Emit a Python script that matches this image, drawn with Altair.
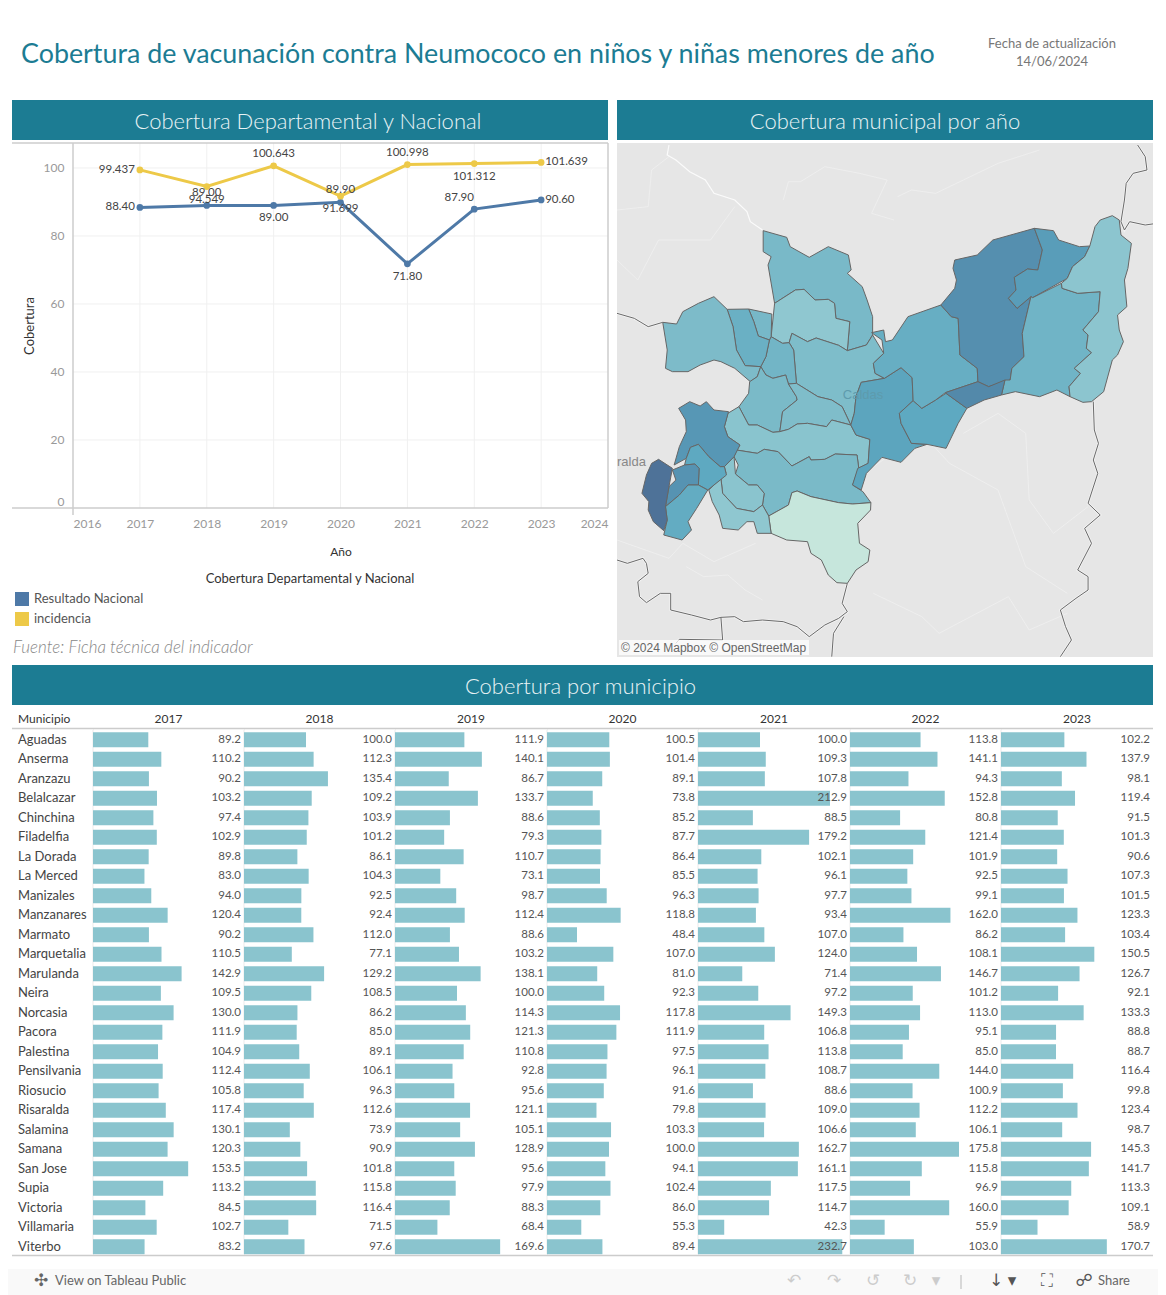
import altair as alt
import pandas as pd

FONT = "Lato"
TEAL = "#1C7C93"
BAR = "#8AC4CE"

# ---------- line chart data ----------
years = [2017, 2018, 2019, 2020, 2021, 2022, 2023]
nacional = [88.40, 89.00, 89.00, 89.90, 71.80, 87.90, 90.60]
nacional_lbl = ["88.40", "89.00", "89.00", "89.90", "71.80", "87.90", "90.60"]
nacional_pos = ["left", "above", "below", "above", "below", "aboveleft", "right"]
incidencia = [99.437, 94.549, 100.643, 91.699, 100.998, 101.312, 101.639]
incidencia_lbl = ["99.437", "94.549", "100.643", "91.699", "100.998", "101.312", "101.639"]
incidencia_pos = ["left", "below", "above", "below", "above", "below", "right"]

# ---------- table data ----------
municipios = ["Aguadas", "Anserma", "Aranzazu", "Belalcazar", "Chinchina", "Filadelfia", "La Dorada",
              "La Merced", "Manizales", "Manzanares", "Marmato", "Marquetalia", "Marulanda", "Neira",
              "Norcasia", "Pacora", "Palestina", "Pensilvania", "Riosucio", "Risaralda", "Salamina",
              "Samana", "San Jose", "Supia", "Victoria", "Villamaria", "Viterbo"]
v2017 = [89.2, 110.2, 90.2, 103.2, 97.4, 102.9, 89.8, 83.0, 94.0, 120.4, 90.2, 110.5, 142.9, 109.5, 130.0,
         111.9, 104.9, 112.4, 105.8, 117.4, 130.1, 120.3, 153.5, 113.2, 84.5, 102.7, 83.2]
v2018 = [100.0, 112.3, 135.4, 109.2, 103.9, 101.2, 86.1, 104.3, 92.5, 92.4, 112.0, 77.1, 129.2, 108.5, 86.2,
         85.0, 89.1, 106.1, 96.3, 112.6, 73.9, 90.9, 101.8, 115.8, 116.4, 71.5, 97.6]
v2019 = [111.9, 140.1, 86.7, 133.7, 88.6, 79.3, 110.7, 73.1, 98.7, 112.4, 88.6, 103.2, 138.1, 100.0, 114.3,
         121.3, 110.8, 92.8, 95.6, 121.1, 105.1, 128.9, 95.6, 97.9, 88.3, 68.4, 169.6]
v2020 = [100.5, 101.4, 89.1, 73.8, 85.2, 87.7, 86.4, 85.5, 96.3, 118.8, 48.4, 107.0, 81.0, 92.3, 117.8,
         111.9, 97.5, 96.1, 91.6, 79.8, 103.3, 100.0, 94.1, 102.4, 86.0, 55.3, 89.4]
v2021 = [100.0, 109.3, 107.8, 212.9, 88.5, 179.2, 102.1, 96.1, 97.7, 93.4, 107.0, 124.0, 71.4, 97.2, 149.3,
         106.8, 113.8, 108.7, 88.6, 109.0, 106.6, 162.7, 161.1, 117.5, 114.7, 42.3, 232.7]
v2022 = [113.8, 141.1, 94.3, 152.8, 80.8, 121.4, 101.9, 92.5, 99.1, 162.0, 86.2, 108.1, 146.7, 101.2, 113.0,
         95.1, 85.0, 144.0, 100.9, 112.2, 106.1, 175.8, 115.8, 96.9, 160.0, 55.9, 103.0]
v2023 = [102.2, 137.9, 98.1, 119.4, 91.5, 101.3, 90.6, 107.3, 101.5, 123.3, 103.4, 150.5, 126.7, 92.1, 133.3,
         88.8, 88.7, 116.4, 99.8, 123.4, 98.7, 145.3, 141.7, 113.3, 109.1, 58.9, 170.7]
table_cols = [v2017, v2018, v2019, v2020, v2021, v2022, v2023]
panel_widths = [151, 151, 152, 151, 152, 151, 152]

# ---------- map outlines (in map units) ----------
shapes = {
 "Aguadas": [(422,92),(490,112),(500,140),(555,172),(610,140),(668,165),(676,210),(665,220),(708,260),(722,300),(738,350),(738,405),(720,435),(665,452),(672,365),(632,355),(628,310),(610,298),(572,300),(540,268),(515,270),(455,310),(436,195),(445,170),(422,155)],
 "Pacora": [(455,310),(515,270),(540,268),(572,300),(610,298),(628,310),(632,355),(672,365),(665,452),(640,436),(575,414),(550,425),(505,400),(497,428),(478,430),(445,410)],
 "Salamina": [(505,400),(550,425),(575,414),(640,436),(665,452),(720,435),(738,405),(770,460),(740,490),(745,520),(772,535),(705,547),(690,590),(685,640),(675,675),(650,620),(620,600),(580,590),(518,550),(510,450),(497,428)],
 "La Merced": [(445,410),(478,430),(497,428),(510,450),(518,550),(495,552),(487,525),(450,535),(430,525),(415,500),(430,470),(440,420)],
 "Marmato": [(380,327),(447,342),(445,410),(440,420),(408,408),(395,365)],
 "Supia": [(318,328),(380,327),(395,365),(408,408),(440,420),(430,470),(415,500),(370,497),(345,450),(335,380)],
 "Riosucio": [(132,367),(172,372),(190,335),(235,310),(280,290),(318,328),(335,380),(345,450),(370,497),(415,500),(405,530),(385,545),(340,505),(300,485),(280,480),(240,495),(205,515),(160,515),(140,505),(145,450)],
 "Filadelfia": [(415,500),(430,525),(450,535),(487,525),(495,552),(518,590),(520,600),(478,635),(470,695),(450,697),(405,675),(380,675),(352,620),(380,580),(383,545),(405,530)],
 "Aranzazu": [(495,552),(518,550),(580,590),(620,600),(650,620),(675,675),(620,660),(605,680),(550,670),(520,672),(495,688),(470,695),(478,635),(520,600),(518,590)],
 "Neira": [(352,620),(380,675),(405,675),(450,697),(470,695),(495,688),(520,672),(550,670),(605,680),(620,660),(675,675),(690,705),(730,718),(725,790),(698,805),(693,765),(630,762),(600,778),(560,780),(555,770),(505,798),(465,755),(425,748),(405,760),(345,750),(355,735),(320,710),(310,680),(320,640)],
 "Manizales": [(345,750),(405,760),(425,748),(465,755),(505,798),(555,770),(560,780),(600,778),(630,762),(693,765),(698,805),(680,855),(710,875),(733,908),(680,912),(640,908),(560,890),(520,873),(505,878),(495,915),(438,948),(420,915),(425,880),(405,855),(380,855),(342,822),(350,795),(338,770)],
 "Villamaria": [(438,948),(495,915),(505,878),(520,873),(560,890),(640,908),(680,912),(733,908),(732,930),(695,970),(700,1030),(730,1050),(725,1085),(690,1110),(665,1150),(635,1148),(610,1125),(590,1080),(560,1060),(550,1025),(490,1020),(445,1000)],
 "Chinchina": [(338,770),(342,822),(380,855),(405,855),(425,880),(420,915),(395,935),(345,925),(305,880),(300,835),(315,820),(310,800)],
 "Palestina": [(265,870),(300,835),(305,880),(345,925),(395,935),(420,915),(438,948),(445,1000),(405,1000),(395,965),(375,965),(350,990),(305,985),(295,945),(275,905)],
 "Anserma": [(178,625),(210,605),(240,618),(258,605),(280,630),(322,635),(310,680),(320,710),(355,735),(338,770),(310,800),(298,800),(265,770),(235,733),(212,742),(200,775),(165,795),(180,740),(200,695),(198,660)],
 "Risaralda": [(235,733),(265,770),(298,800),(310,800),(316,825),(262,870),(235,855),(237,805),(225,792),(195,795),(200,775),(212,742)],
 "San Jose": [(160,810),(195,795),(225,792),(237,805),(235,855),(205,855),(180,885),(140,920),(150,860),(170,840)],
 "Belalcazar": [(140,920),(180,885),(205,855),(235,855),(262,870),(230,925),(205,965),(215,990),(188,1020),(135,1005),(145,960)],
 "Viterbo": [(120,778),(160,805),(150,860),(140,920),(145,960),(135,992),(105,965),(90,930),(92,905),(72,880),(85,825),(100,790)],
 "Marulanda": [(705,547),(772,535),(820,503),(852,533),(855,602),(815,640),(820,670),(850,730),(895,733),(860,745),(820,787),(765,772),(720,820),(705,870),(680,855),(695,805),(725,790),(730,718),(690,705),(675,675),(685,640),(690,590)],
 "Manzanares": [(815,640),(855,602),(880,625),(920,600),(950,580),(1010,625),(985,670),(950,745),(895,733),(850,730),(820,670)],
 "Pensilvania": [(740,490),(770,460),(765,420),(735,398),(770,390),(775,425),(795,420),(840,350),(935,315),(965,350),(985,355),(990,465),(1040,505),(1042,545),(948,578),(920,600),(880,625),(855,602),(852,533),(820,503),(772,535),(745,520)],
 "Samana": [(975,180),(1040,165),(1085,120),(1205,85),(1228,150),(1215,210),(1185,207),(1147,232),(1152,270),(1130,295),(1155,325),(1195,290),(1170,400),(1175,470),(1140,505),(1135,540),(1073,560),(1042,545),(1040,505),(990,465),(985,355),(965,350),(935,315),(975,265),(980,240),(970,205)],
 "Norcasia": [(1205,85),(1260,92),(1275,120),(1335,140),(1365,138),(1350,170),(1315,200),(1300,235),(1200,293),(1195,290),(1155,325),(1130,295),(1152,270),(1147,232),(1185,207),(1215,210),(1228,150)],
 "Victoria": [(1200,293),(1283,250),(1285,265),(1330,280),(1395,275),(1390,335),(1345,390),(1360,405),(1355,445),(1370,458),(1320,505),(1338,520),(1305,560),(1308,590),(1270,570),(1220,590),(1150,575),(1110,585),(1120,540),(1135,540),(1140,505),(1175,470),(1170,400),(1195,290)],
 "La Dorada": [(1430,47),(1450,60),(1455,105),(1485,130),(1475,205),(1465,240),(1472,320),(1445,345),(1450,390),(1462,425),(1445,465),(1430,480),(1405,575),(1370,605),(1345,607),(1308,590),(1305,560),(1338,520),(1320,505),(1370,458),(1355,445),(1360,405),(1345,390),(1390,335),(1395,275),(1330,280),(1285,265),(1283,250),(1300,235),(1315,200),(1350,170),(1365,138),(1380,80),(1395,60)],
 "Marquetalia": [(948,578),(1042,545),(1073,560),(1120,540),(1110,585),(1060,600),(1010,625),(950,580)],
}
borders = [
 [(0,340),(50,355),(90,380),(132,367)],
 [(1503,-165),(1525,-130),(1530,-90),(1490,-80),(1470,-50),(1465,0),(1455,65)],
 [(1455,65),(1465,90),(1480,65),(1525,75),(1559,70)],
 [(1375,605),(1378,690),(1390,730),(1375,780),(1388,820),(1360,910),(1395,945),(1350,985),(1370,1030),(1330,1110),(1360,1130),(1360,1170),(1325,1195),(1280,1230),(1295,1280),(1312,1320),(1280,1370)],
 [(665,1150),(650,1210),(665,1235),(640,1255),(600,1275),(555,1310),(520,1280),(480,1265),(420,1260),(365,1265),(340,1250),(300,1252),(270,1260),(215,1245),(155,1230),(155,1180),(125,1180),(85,1208),(65,1190),(60,1145),(90,1120),(85,1090),(75,1075),(30,1090),(0,1080)],
 [(300,1252),(305,1320),(180,1318),(170,1330)],
 [(655,1250),(625,1300),(620,1370)],
]
rivers = [
 [(150,-165),(145,-135),(170,-120),(210,-85),(255,-60),(280,-20),(340,0),(375,35),(385,65),(420,90)],
]
faint_rivers = [
 [(480,0),(495,-55),(530,-55),(600,-100),(700,-80),(780,-60),(735,40),(800,60)],
 [(810,-10),(850,-30),(920,-20),(1000,-60),(1100,-110),(1220,-150)],
 [(0,30),(90,20),(100,-90),(150,-130)],
 [(0,180),(60,240),(120,120),(270,120),(340,20)],
 [(1000,700),(1100,640),(1180,700),(1190,900),(1260,1000),(1360,920)],
 [(740,800),(880,700),(960,790),(1100,870),(1180,1100),(1300,1180)],
 [(740,1180),(880,1250),(930,1300),(1130,1190),(1190,1290),(1300,1240)],
 [(200,1100),(250,1130),(320,1125),(370,1170),(420,1200)],
 [(0,1020),(150,1075),(190,1030),(280,1085),(400,1030)],
]

# ---------- footer ----------
foot_text = ["View on Tableau Public", "Share"]
foot_text_x = [43, 1086]
foot_icons = ["\u2723", "\u21b6", "\u21b7", "\u21ba", "\u21bb", "\u25be", "\u2193", "\u25be", "\u26f6", "\u260d"]
foot_icons_x = [29, 782, 822, 861, 898, 924, 984, 1000, 1035, 1072]
foot_icons_c = ["#666", "#ccc", "#ccc", "#ccc", "#ccc", "#ccc", "#555", "#555", "#555", "#555"]


def tdf(*t):
    return pd.DataFrame({"t": list(t)})


def banner(label, w, cx=None, top=0):
    h = 40 + top
    rect = alt.Chart(tdf("")).mark_rect(color=TEAL).encode(
        x=alt.value(0), x2=alt.value(w), y=alt.value(top), y2=alt.value(h))
    text = (alt.Chart(tdf(label))
            .mark_text(font=FONT, fontWeight=300, fontSize=22, color="#E9F3F5", align="center", baseline="middle")
            .encode(text="t:N", x=alt.value(w / 2 if cx is None else cx), y=alt.value(top + 21.5)))
    return alt.layer(rect, text).properties(width=w, height=h)


# ---------- header ----------
title_l = alt.Chart(tdf("Cobertura de vacunación contra Neumococo en niños y niñas menores de año")).mark_text(
    font=FONT, fontSize=26.85, color="#1C7C93", align="left", baseline="middle"
).encode(text="t:N", x=alt.value(9), y=alt.value(47))
date1 = alt.Chart(tdf("Fecha de actualización")).mark_text(
    font=FONT, fontSize=13, color="#777777", align="center", baseline="middle"
).encode(text="t:N", x=alt.value(1040), y=alt.value(36))
date2 = alt.Chart(tdf("14/06/2024")).mark_text(
    font=FONT, fontSize=13, color="#777777", align="center", baseline="middle"
).encode(text="t:N", x=alt.value(1040), y=alt.value(53.5))
header = alt.layer(title_l, date1, date2).properties(width=1141, height=92)

# ---------- line chart ----------
LW, LH = 596, 514
rows = []
for s, vals, lbls, poss in [("Resultado Nacional", nacional, nacional_lbl, nacional_pos),
                            ("incidencia", incidencia, incidencia_lbl, incidencia_pos)]:
    for y, v, l, p in zip(years, vals, lbls, poss):
        rows.append({"year": y, "value": v, "serie": s, "label": l, "pos": p})
line_df = pd.DataFrame(rows)

xs = alt.Scale(domain=[2016, 2024], range=[61, 596], nice=False, zero=False)
ys = alt.Scale(domain=[0, 107.35], range=[365, 0], nice=False)
cs = alt.Scale(domain=["Resultado Nacional", "incidencia"], range=["#4E79A7", "#EDC948"])

x_axis = alt.Axis(values=[2016, 2017, 2018, 2019, 2020, 2021, 2022, 2023, 2024], format="d", grid=False, ticks=False,
                  domain=False, offset=-149, labelFlush=True, labelFont=FONT, labelFontSize=12,
                  labelColor="#999999", labelPadding=10, title="Año", titleFont=FONT, titleFontSize=12,
                  titleColor="#333333", titleFontWeight="normal", titlePadding=17)
y_axis = alt.Axis(values=[0, 20, 40, 60, 80, 100], grid=False, ticks=False, domain=False, offset=-61,
                  labelFlush=True, labelFont=FONT, labelFontSize=12, labelColor="#999999", labelPadding=9,
                  title="Cobertura", titleFont=FONT, titleFontSize=13, titleColor="#333333",
                  titleFontWeight="normal", titlePadding=7)

grid_v = alt.Chart(pd.DataFrame({"year": years, "a": [0] * 7, "b": [107.35] * 7})).mark_rule(
    color="#F0F0F0", strokeWidth=1
).encode(x=alt.X("year:Q", scale=xs, axis=x_axis), y=alt.Y("a:Q", scale=ys, axis=y_axis), y2="b:Q")
grid_h = alt.Chart(pd.DataFrame({"v": [20, 40, 60, 80, 100], "a": [2016] * 5, "b": [2024] * 5})).mark_rule(
    color="#F0F0F0", strokeWidth=1
).encode(y=alt.Y("v:Q", scale=ys), x=alt.X("a:Q", scale=xs), x2="b:Q")


def hline(w, y, x0=0, color="#CCCCCC"):
    return alt.Chart(tdf("")).mark_rule(color=color, strokeWidth=1.5).encode(
        x=alt.value(x0), x2=alt.value(w), y=alt.value(y))


def vline(x, y0, y1, color="#CCCCCC"):
    return alt.Chart(tdf("")).mark_rule(color=color, strokeWidth=1.5).encode(
        x=alt.value(x), y=alt.value(y0), y2=alt.value(y1))


legend = alt.Legend(title=None, orient="none", legendX=3, legendY=492, symbolType="square", symbolSize=196,
                    symbolStrokeWidth=0, rowPadding=6, labelFont=FONT, labelFontSize=13, labelColor="#555555",
                    labelOffset=5)
line_layer = alt.Chart(line_df).mark_line(strokeWidth=3).encode(
    x=alt.X("year:Q", scale=xs), y=alt.Y("value:Q", scale=ys),
    color=alt.Color("serie:N", scale=cs, legend=legend))
pt_layer = alt.Chart(line_df).mark_point(filled=True, size=45, opacity=1).encode(
    x=alt.X("year:Q", scale=xs), y=alt.Y("value:Q", scale=ys),
    color=alt.Color("serie:N", scale=cs, legend=legend))

label_layers = []
for pos, kw in {"left": dict(align="right", dx=-5, dy=0), "right": dict(align="left", dx=4, dy=0),
                "above": dict(align="center", dx=0, dy=-12), "below": dict(align="center", dx=0, dy=13),
                "aboveleft": dict(align="center", dx=-15, dy=-11)}.items():
    label_layers.append(
        alt.Chart(line_df[line_df["pos"] == pos]).mark_text(
            font=FONT, fontSize=11.5, color="#444444", baseline="middle", **kw
        ).encode(x=alt.X("year:Q", scale=xs), y=alt.Y("value:Q", scale=ys), text="label:N"))

leg_title = alt.Chart(tdf("Cobertura Departamental y Nacional")).mark_text(
    font=FONT, fontSize=13, color="#333333", align="center", baseline="middle"
).encode(text="t:N", x=alt.value(298), y=alt.value(436))
fuente = alt.Chart(tdf("Fuente: Ficha técnica del indicador")).mark_text(
    font=FONT, fontSize=17, fontStyle="italic", fontWeight=300, color="#888888", align="left", baseline="middle"
).encode(text="t:N", x=alt.value(1), y=alt.value(504.5))

line_chart = alt.layer(
    grid_v, grid_h, hline(LW, 0), hline(LW, 365), vline(61, 0, 372), vline(LW, 0, 365),
    line_layer, pt_layer, *label_layers, leg_title, fuente
).properties(width=LW, height=LH)

# ---------- map ----------
SX, SY = 2.887, 3.0


def ring(pts):
    return [[x / SX, y / SY] for x, y in pts]


map_values = {m: v for m, v in zip(municipios, v2023)}
features = []
for name, pts in shapes.items():
    r = ring(pts)
    r.append(r[0])
    features.append({"type": "Feature", "properties": {"name": name, "v": map_values[name]},
                     "geometry": {"type": "Polygon", "coordinates": [r]}})


def lines(ls):
    return [{"type": "Feature", "properties": {},
             "geometry": {"type": "LineString", "coordinates": ring(p)}} for p in ls]


proj = alt.Projection(type="identity", scale=1, translate=[0, 57], clipExtent=[[0, 0], [536, 514]])
MW, MH = 536, 514
faint_l = alt.Chart(alt.Data(values=lines(faint_rivers))).mark_geoshape(
    filled=False, stroke="#F2F2F2", strokeWidth=0.8, strokeOpacity=0.8).project(**proj.to_dict())
river_l = alt.Chart(alt.Data(values=lines(rivers))).mark_geoshape(
    filled=False, stroke="#FBFBFB", strokeWidth=1.2).project(**proj.to_dict())
halo_l = alt.Chart(alt.Data(values=lines(borders))).mark_geoshape(
    filled=False, stroke="#F2F2F2", strokeWidth=2.5).project(**proj.to_dict())
border_l = alt.Chart(alt.Data(values=lines(borders))).mark_geoshape(
    filled=False, stroke="#6A6A6A", strokeWidth=1).project(**proj.to_dict())
muni_l = alt.Chart(alt.Data(values=features)).mark_geoshape(stroke="#666666", strokeWidth=1).encode(
    color=alt.Color("properties.v:Q", legend=None,
                    scale=alt.Scale(domain=[58.9, 88.8, 102, 123, 145, 170.7],
                                    range=["#C6E6DC", "#8FC7D0", "#79B9C8", "#5EA9C1", "#558FAF", "#4E7298"]))
).project(**proj.to_dict())
caldas = alt.Chart(tdf("Caldas")).mark_text(font="Liberation Sans", fontSize=13, color="#5E9BAD", align="center",
                                            baseline="middle").encode(text="t:N", x=alt.value(246), y=alt.value(252))
ralda = alt.Chart(tdf("ralda")).mark_text(font="Liberation Sans", fontSize=13, color="#888888", align="left",
                                          baseline="middle").encode(text="t:N", x=alt.value(0), y=alt.value(319))
copy_box = alt.Chart(tdf("")).mark_rect(color="#FFFFFF", opacity=0.75).encode(
    x=alt.value(2), x2=alt.value(192), y=alt.value(497), y2=alt.value(512))
copy_t = alt.Chart(tdf("© 2024 Mapbox  © OpenStreetMap")).mark_text(
    font="Liberation Sans", fontSize=12, color="#666666", align="left", baseline="middle"
).encode(text="t:N", x=alt.value(4), y=alt.value(505))
map_chart = alt.layer(faint_l, river_l, halo_l, border_l, muni_l, caldas, ralda, copy_box, copy_t).properties(
    width=MW, height=MH, view=alt.ViewConfig(fill="#E6E6E6", strokeWidth=0))

# ---------- table ----------
TH = 564
PX_PER_UNIT = 0.62
ybs = alt.Scale(domain=municipios, range=[25, 551.5], paddingInner=0.23, paddingOuter=0.115)


def year_head(text, x, align):
    return alt.Chart(tdf(str(text))).mark_text(font=FONT, fontSize=12, color="#333333", align=align,
                                               baseline="middle").encode(
        text="t:N", x=alt.value(x), y=alt.value(14))


name_df = pd.DataFrame({"m": municipios})
name_col = alt.layer(
    alt.Chart(name_df).mark_text(font=FONT, fontSize=13, color="#444444", align="left", baseline="middle").encode(
        y=alt.Y("m:N", scale=ybs, axis=None, sort=municipios), x=alt.value(6), text="m:N"),
    year_head("Municipio", 6, "left"), hline(81, 23.5), hline(81, 550.5),
).properties(width=81, height=TH)

panels = [name_col]
for yr, col, pw in zip(years, table_cols, panel_widths):
    d = pd.DataFrame({"m": municipios, "v": col, "lbl": [f"{c:.1f}" for c in col]})
    bars = alt.Chart(d).mark_bar(color=BAR).encode(
        y=alt.Y("m:N", scale=ybs, axis=None, sort=municipios),
        x=alt.X("v:Q", scale=alt.Scale(domain=[0, pw / PX_PER_UNIT], range=[0, pw], nice=False), axis=None))
    labels = alt.Chart(d).mark_text(font=FONT, fontSize=11.5, color="#555555", align="right", baseline="middle").encode(
        y=alt.Y("m:N", scale=ybs, axis=None, sort=municipios), x=alt.value(pw - 3), text="lbl:N")
    sep = vline(0, 24, 550, color="#F2F2F2")
    panels.append(alt.layer(sep, bars, labels, year_head(yr, pw / 2, "center"),
                            hline(pw, 23.5), hline(pw, 550.5)).properties(width=pw, height=TH))
table = alt.hconcat(*panels, spacing=0, bounds="flush")

# ---------- footer ----------
FW, FH = 1146, 26
foot_bg = alt.Chart(tdf("")).mark_rect(color="#F9F9F9").encode(
    x=alt.value(-4), x2=alt.value(FW), y=alt.value(0), y2=alt.value(FH))
foot_t = alt.Chart(pd.DataFrame({"t": foot_text, "px": foot_text_x})).mark_text(
    font=FONT, fontSize=13, color="#666666", align="left", baseline="middle"
).encode(text="t:N", x=alt.X("px:Q", scale=None), y=alt.value(12))
foot_i = alt.Chart(pd.DataFrame({"t": foot_icons, "px": foot_icons_x, "c": foot_icons_c})).mark_text(
    font="DejaVu Sans", fontSize=17, align="center", baseline="middle"
).encode(text="t:N", x=alt.X("px:Q", scale=None), y=alt.value(12), color=alt.Color("c:N", scale=None))
foot_sep = vline(949, 6, 20, color="#CCCCCC")
footer = alt.layer(foot_bg, foot_t, foot_i, foot_sep).properties(width=FW, height=FH)

# ---------- assembly ----------
left_col = alt.vconcat(banner("Cobertura Departamental y Nacional", 596, cx=296), line_chart, spacing=3, bounds="flush")
right_col = alt.vconcat(banner("Cobertura municipal por año", 536), map_chart, spacing=3, bounds="flush")
row = alt.hconcat(left_col, right_col, spacing=8)

chart = alt.vconcat(
    header, row, banner("Cobertura por municipio", 1141, cx=568.5, top=8), table, footer, spacing=0
).properties(padding={"left": 0, "top": 0, "right": 0, "bottom": 0}).configure_view(strokeWidth=0).resolve_scale(
    color="independent")

chart.save("out.html", embed_options={"renderer": "svg", "actions": False})
